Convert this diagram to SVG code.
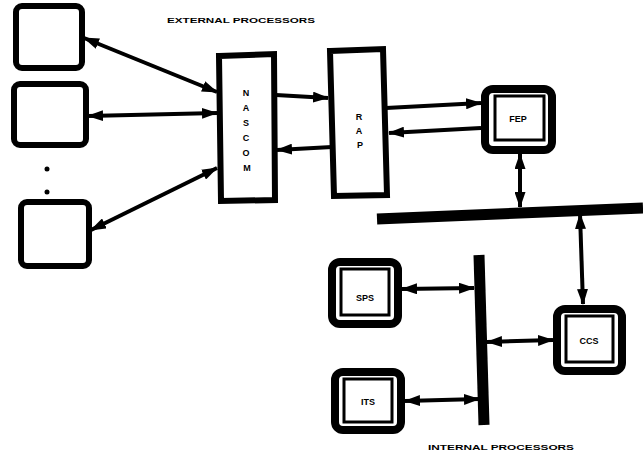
<svg xmlns="http://www.w3.org/2000/svg" width="643" height="455" viewBox="0 0 643 455">
<defs>
<marker id="ah" viewBox="0 0 16 11" refX="15" refY="5.5" markerWidth="16" markerHeight="11" markerUnits="userSpaceOnUse" orient="auto-start-reverse">
<path d="M0,0 L16,5.5 L0,11 Z" fill="#000"/>
</marker>
</defs>
<style>
.ext{fill:#fff;stroke:#000;stroke-width:6}
.blk{fill:#fff;stroke:#000;stroke-width:6}
.out{fill:#fff;stroke:#000;stroke-width:8}
.inn{fill:#fff;stroke:#000;stroke-width:3}
.c{fill:none;stroke:#000;stroke-width:4}
.bus{fill:none;stroke:#000;stroke-width:11;stroke-linecap:butt}
.t{font-family:"Liberation Sans",Arial,sans-serif;font-weight:900;font-size:9px;fill:#000;text-anchor:middle}
.lbl{font-family:"Liberation Sans",Arial,sans-serif;font-weight:900;font-size:8px;fill:#000}
</style>
<text class="lbl" x="167" y="23" textLength="148" lengthAdjust="spacingAndGlyphs">EXTERNAL PROCESSORS</text>
<text class="lbl" x="428" y="450" textLength="146" lengthAdjust="spacingAndGlyphs">INTERNAL PROCESSORS</text>
<g id="ext1"><rect class="ext" x="16" y="6" width="66" height="62" rx="6"/></g>
<g id="ext2"><rect class="ext" x="14" y="84" width="72" height="61" rx="6"/></g>
<g id="dots"><circle cx="47" cy="169" r="2.5"/><circle cx="47" cy="192" r="2.5"/></g>
<g id="ext3"><rect class="ext" x="21" y="202" width="68" height="64" rx="6"/></g>
<g id="nascom">
<polygon class="blk" points="219,56 274,54 275,200 221,201"/>
<text class="t" x="246" y="96">N</text>
<text class="t" x="246" y="111">A</text>
<text class="t" x="246" y="126">S</text>
<text class="t" x="246" y="141">C</text>
<text class="t" x="246" y="156">O</text>
<text class="t" x="247" y="171">M</text>
</g>
<g id="rap">
<polygon class="blk" points="330,51 383,49 387,195 334,196"/>
<text class="t" x="359" y="120">R</text>
<text class="t" x="359" y="134">A</text>
<text class="t" x="360" y="148">P</text>
</g>
<g id="fep">
<rect class="out" x="485" y="89" width="67" height="61" rx="8"/>
<rect class="inn" x="495" y="96" width="49" height="44"/>
<text class="t" x="518" y="122">FEP</text>
</g>
<g id="sps">
<rect class="out" x="332" y="262" width="66" height="62" rx="8"/>
<rect class="inn" x="341" y="269" width="48" height="46"/>
<text class="t" x="365" y="301">SPS</text>
</g>
<g id="its">
<rect class="out" x="335" y="372" width="66" height="58" rx="8"/>
<rect class="inn" x="344" y="379" width="48" height="43"/>
<text class="t" x="368" y="405">ITS</text>
</g>
<g id="ccs">
<rect class="out" x="557" y="309" width="65" height="62" rx="8"/>
<rect class="inn" x="566" y="316" width="47" height="46"/>
<text class="t" x="589" y="344">CCS</text>
</g>
<g id="connectors">
<line class="bus" x1="377" y1="219" x2="643" y2="208"/>
<line class="bus" x1="479" y1="255" x2="484" y2="425"/>
<line class="c" x1="84" y1="38" x2="217" y2="92" marker-start="url(#ah)" marker-end="url(#ah)"/>
<line class="c" x1="88" y1="116" x2="217" y2="113" marker-start="url(#ah)" marker-end="url(#ah)"/>
<line class="c" x1="91" y1="230" x2="217" y2="168" marker-start="url(#ah)" marker-end="url(#ah)"/>
<line class="c" x1="276" y1="95" x2="328" y2="98" marker-end="url(#ah)"/>
<line class="c" x1="332" y1="147" x2="277" y2="150" marker-end="url(#ah)"/>
<line class="c" x1="386" y1="108" x2="481" y2="103" marker-end="url(#ah)"/>
<line class="c" x1="481" y1="128" x2="389" y2="133" marker-end="url(#ah)"/>
<line class="c" x1="520" y1="154" x2="520" y2="207" marker-start="url(#ah)" marker-end="url(#ah)"/>
<line class="c" x1="580" y1="214" x2="583" y2="304" marker-start="url(#ah)" marker-end="url(#ah)"/>
<line class="c" x1="402" y1="289" x2="474" y2="288" marker-start="url(#ah)" marker-end="url(#ah)"/>
<line class="c" x1="405" y1="401" x2="479" y2="399" marker-start="url(#ah)" marker-end="url(#ah)"/>
<line class="c" x1="487" y1="342" x2="553" y2="340" marker-start="url(#ah)" marker-end="url(#ah)"/>
</g>
</svg>
